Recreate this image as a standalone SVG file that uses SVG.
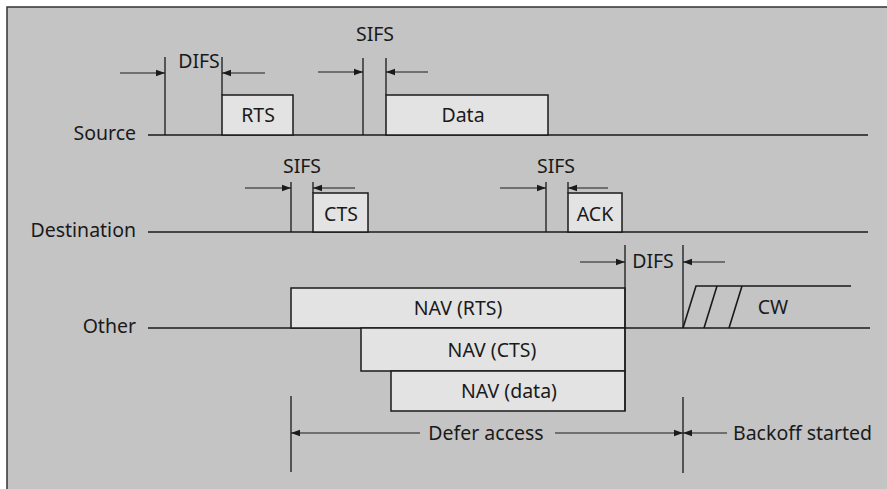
<svg xmlns="http://www.w3.org/2000/svg" width="887" height="489" viewBox="0 0 887 489">
<defs>
<style>
.bg{fill:#c4c4c4}
.frame{stroke:#333;stroke-width:1.5;fill:none}
.ln{stroke:#1a1a1a;stroke-width:1.6;fill:none}
.tk{stroke:#1a1a1a;stroke-width:1.3;fill:none}
.box{fill:#e3e3e3;stroke:#1a1a1a;stroke-width:1.5}
.ar{stroke:#1a1a1a;stroke-width:1.2;fill:none;marker-end:url(#ah)}
text{font-family:"Noto Sans","Open Sans","DejaVu Sans",sans-serif;font-size:19.5px;fill:#1a1a1a}
.m{text-anchor:middle}
.e{text-anchor:end}
</style>
<marker id="ah" viewBox="0 0 10 10" refX="10" refY="5" markerWidth="9" markerHeight="9" markerUnits="userSpaceOnUse" orient="auto">
<path d="M0,1.5 L10,5 L0,8.5 Z" fill="#1a1a1a"/>
</marker>
</defs>
<rect x="0" y="0" width="887" height="489" fill="#ffffff"/>
<rect class="bg" x="7" y="7" width="880" height="482"/>
<path class="frame" d="M7,489 V7 H887"/>

<g id="timelines">
<text class="e" x="136" y="140">Source</text>
<text class="e" x="136" y="237">Destination</text>
<text class="e" x="136" y="333">Other</text>
<line class="ln" x1="148" y1="135" x2="868" y2="135"/>
<line class="ln" x1="148" y1="232" x2="868" y2="232"/>
<line class="ln" x1="148" y1="328" x2="870" y2="328"/>
</g>

<g id="rts">
<rect class="box" x="222" y="95" width="71" height="40"/>
<text class="m" x="258" y="122">RTS</text>
</g>
<g id="data">
<rect class="box" x="386" y="95" width="162" height="40"/>
<text class="m" x="463" y="122">Data</text>
</g>
<g id="cts">
<rect class="box" x="313" y="193" width="55" height="39"/>
<text class="m" x="341" y="221">CTS</text>
</g>
<g id="ack">
<rect class="box" x="568" y="193" width="54" height="39"/>
<text class="m" x="595" y="221">ACK</text>
</g>
<g id="nav-rts">
<rect class="box" x="291" y="288" width="334" height="40"/>
<text class="m" x="458" y="315">NAV (RTS)</text>
</g>
<g id="nav-cts">
<rect class="box" x="361" y="328" width="264" height="43"/>
<text class="m" x="492" y="357">NAV (CTS)</text>
</g>
<g id="nav-data">
<rect class="box" x="391" y="371" width="234" height="40"/>
<text class="m" x="509" y="398">NAV (data)</text>
</g>
<g id="cw">
<path class="ln" d="M683,328 L696,286 H851 M704,328 L717,286 M729,328 L742,286"/>
<text class="m" x="773" y="314">CW</text>
</g>

<g id="connectors">
<line class="tk" x1="165" y1="57" x2="165" y2="135"/>
<line class="tk" x1="222" y1="57" x2="222" y2="95"/>
<line class="ar" x1="120" y1="73" x2="165" y2="73"/>
<line class="ar" x1="265" y1="73" x2="222" y2="73"/>
<line class="tk" x1="363" y1="58" x2="363" y2="135"/>
<line class="tk" x1="386" y1="58" x2="386" y2="95"/>
<line class="ar" x1="318" y1="72" x2="363" y2="72"/>
<line class="ar" x1="428" y1="72" x2="386" y2="72"/>
<line class="tk" x1="291" y1="182" x2="291" y2="232"/>
<line class="tk" x1="313" y1="182" x2="313" y2="193"/>
<line class="ar" x1="245" y1="188" x2="291" y2="188"/>
<line class="ar" x1="355" y1="188" x2="313" y2="188"/>
<line class="tk" x1="546" y1="182" x2="546" y2="232"/>
<line class="tk" x1="568" y1="182" x2="568" y2="193"/>
<line class="ar" x1="500" y1="188" x2="546" y2="188"/>
<line class="ar" x1="608" y1="188" x2="568" y2="188"/>
<line class="tk" x1="625" y1="245" x2="625" y2="411"/>
<line class="tk" x1="683" y1="245" x2="683" y2="328"/>
<line class="ar" x1="580" y1="262" x2="625" y2="262"/>
<line class="ar" x1="725" y1="262" x2="683" y2="262"/>
<line class="tk" x1="291" y1="396" x2="291" y2="472"/>
<line class="tk" x1="683" y1="397" x2="683" y2="473"/>
<line class="ar" x1="420" y1="433" x2="291" y2="433"/>
<line class="ar" x1="555" y1="433" x2="683" y2="433"/>
<line class="ar" x1="727" y1="433" x2="683" y2="433"/>
</g>

<g id="labels">
<text class="m" x="199" y="68">DIFS</text>
<text class="m" x="375" y="41">SIFS</text>
<text class="m" x="302" y="173">SIFS</text>
<text class="m" x="556" y="173">SIFS</text>
<text class="m" x="653" y="268">DIFS</text>
<text class="m" x="486" y="440">Defer access</text>
<text x="733" y="440">Backoff started</text>
</g>
</svg>
